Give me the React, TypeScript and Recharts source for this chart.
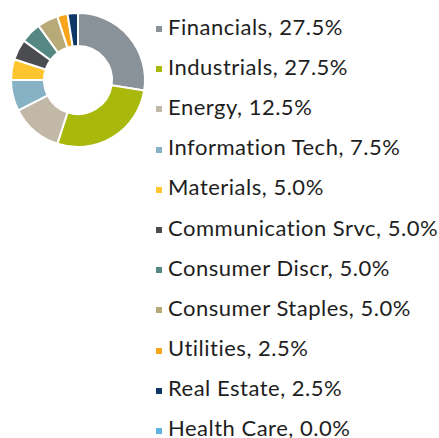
import React from "react";
import { Cell, Legend, Pie, PieChart } from "recharts";

document.body.style.margin = "0";

const sectors = [
  "Financials",
  "Industrials",
  "Energy",
  "Information Tech",
  "Materials",
  "Communication Srvc",
  "Consumer Discr",
  "Consumer Staples",
  "Utilities",
  "Real Estate",
  "Health Care",
];
const weights = [27.5, 27.5, 12.5, 7.5, 5.0, 5.0, 5.0, 5.0, 2.5, 2.5, 0.0];
const colors = [
  "#8a9299",
  "#a9b90c",
  "#c2b8a8",
  "#87b1c4",
  "#ffc52f",
  "#4a4c50",
  "#568883",
  "#b8aa78",
  "#f8a51c",
  "#0e3766",
  "#5bb5e0",
];

const data = sectors.map((name, i) => ({ name, value: weights[i] }));

function SectorLegend() {
  return (
    <div style={{ fontFamily: "Lato, sans-serif", fontSize: 22, letterSpacing: 0.5, color: "#1e1e1e" }}>
      {data.map((d, i) => (
        <div key={d.name} style={{ height: 40.2, display: "flex", alignItems: "center", whiteSpace: "nowrap" }}>
          <span
            style={{
              display: "inline-block",
              width: 6,
              height: 6,
              background: colors[i],
              marginRight: 6,
              marginTop: 6,
            }}
          />
          <span>
            {d.name}, {d.value.toFixed(1)}%
          </span>
        </div>
      ))}
    </div>
  );
}

export default function App() {
  return (
    <PieChart width={439} height={438} margin={{ top: 0, right: 0, bottom: 0, left: 0 }}>
      <Pie
        data={data}
        dataKey="value"
        nameKey="name"
        cx={78}
        cy={80}
        innerRadius={34}
        outerRadius={67}
        startAngle={90}
        endAngle={-270}
        stroke="#ffffff"
        strokeWidth={2}
        isAnimationActive={false}
      >
        {data.map((d, i) => (
          <Cell key={d.name} fill={colors[i]} />
        ))}
      </Pie>
      <Legend
        layout="vertical"
        content={() => <SectorLegend />}
        wrapperStyle={{ left: 156, top: 6, width: 283 }}
      />
    </PieChart>
  );
}
